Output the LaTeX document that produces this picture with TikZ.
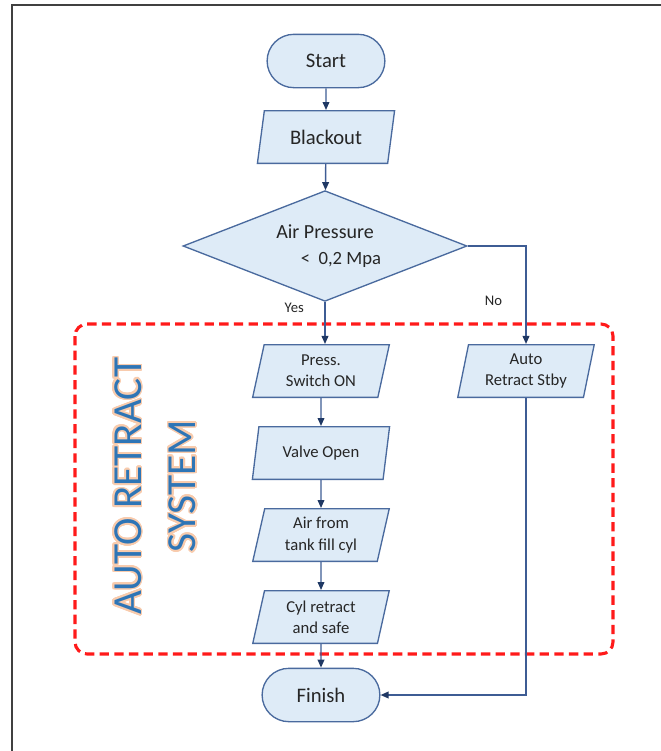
\documentclass[tikz,border=0pt]{standalone}
\usepackage{fontspec}
\setmainfont{Carlito}
\usepackage{contour}
\usetikzlibrary{shapes.geometric,shapes.misc,arrows.meta,positioning}
\definecolor{boxfill}{HTML}{DEEBF7}
\definecolor{boxline}{HTML}{4A6A9E}
\definecolor{flowline}{HTML}{3E5C94}
\definecolor{tipcol}{HTML}{1F3864}
\definecolor{txt}{HTML}{262626}
\definecolor{zonered}{HTML}{FF1A1A}
\definecolor{areablue}{HTML}{2E75B6}
\definecolor{glow}{HTML}{F8CBAD}
\contourlength{1.3pt}
\contournumber{24}

\begin{document}
\begin{tikzpicture}[x=0.75pt,y=-0.75pt,node distance=21pt,
    term/.style={rounded rectangle,draw=boxline,fill=boxfill,line width=1pt,
      minimum width=95pt,minimum height=40pt,text=txt,font=\fontsize{15.5}{18}\selectfont},
    io/.style={trapezium,trapezium left angle=79,trapezium right angle=101,
      trapezium stretches=true,draw=boxline,fill=boxfill,line width=1pt,
      minimum width=103pt,minimum height=39.5pt,align=center,text=txt,
      font=\fontsize{12.5}{16}\selectfont},
    decision/.style={diamond,shape aspect=2.56,inner sep=0pt,draw=boxline,fill=boxfill,
      line width=1pt,minimum width=213pt,minimum height=83pt,align=center,text=txt,
      font=\fontsize{15}{19.5}\selectfont},
    lbl/.style={text=txt,font=\fontsize{11}{13}\selectfont},
    flow/.style={draw=flowline,line width=1.1pt,-{Triangle[length=6pt,width=5pt,color=tipcol]}},
    zone/.style={draw=zonered,line width=2.3pt,dash pattern=on 7pt off 4pt,rounded corners=9pt},
    area/.style={text=areablue,align=center,font=\fontsize{31}{41}\selectfont}]
  \useasboundingbox (0,0) rectangle (661,751);
  \draw[line width=1.5pt,black!75] (12,751) -- (12,5) -- (661,5);

  \node[term] (start) at (326,61) {Start};
  \node[io,font=\fontsize{15.5}{18}\selectfont] (blackout) at (326,137) {Blackout};
  \node[decision] (air) at (325,246) {Air Pressure\\\hspace*{24pt}\fontsize{14}{19.5}\selectfont<\ \ 0,2 Mpa};

  \node[io] (press) at (321,371) {Press.\\Switch ON};
  \node[io] (valve) [below=of press] {Valve Open};
  \node[io] (fill) [below=of valve] {Air from\\tank fill cyl};
  \node[io] (cyl) [below=of fill] {Cyl retract\\and safe};
  \node[term] (finish) at (321,695) {Finish};

  \node[io] (stby) at (526,371) {Auto\\Retract Stby};

  \draw[zone] (75,324) rectangle (613,654);
  \node[area,rotate=90] (ars) at (156,486) {\contour{glow}{AUTO RETRACT}\\\contour{glow}{SYSTEM}};

  \draw[flow] (start) -- (blackout);
  \draw[flow] (blackout) -- (air);
  \draw[flow] (air.south) -- node[lbl,pos=0.15,left=12pt] {Yes} (air.south |- press.north);
  \draw[flow] (air.east) -| node[lbl,pos=0.78,left=14pt] {No} (stby);
  \draw[flow] (press) -- (valve);
  \draw[flow] (valve) -- (fill);
  \draw[flow] (fill) -- (cyl);
  \draw[flow] (cyl) -- (finish);
  \draw[flow] (stby) |- (finish);
\end{tikzpicture}
\end{document}
